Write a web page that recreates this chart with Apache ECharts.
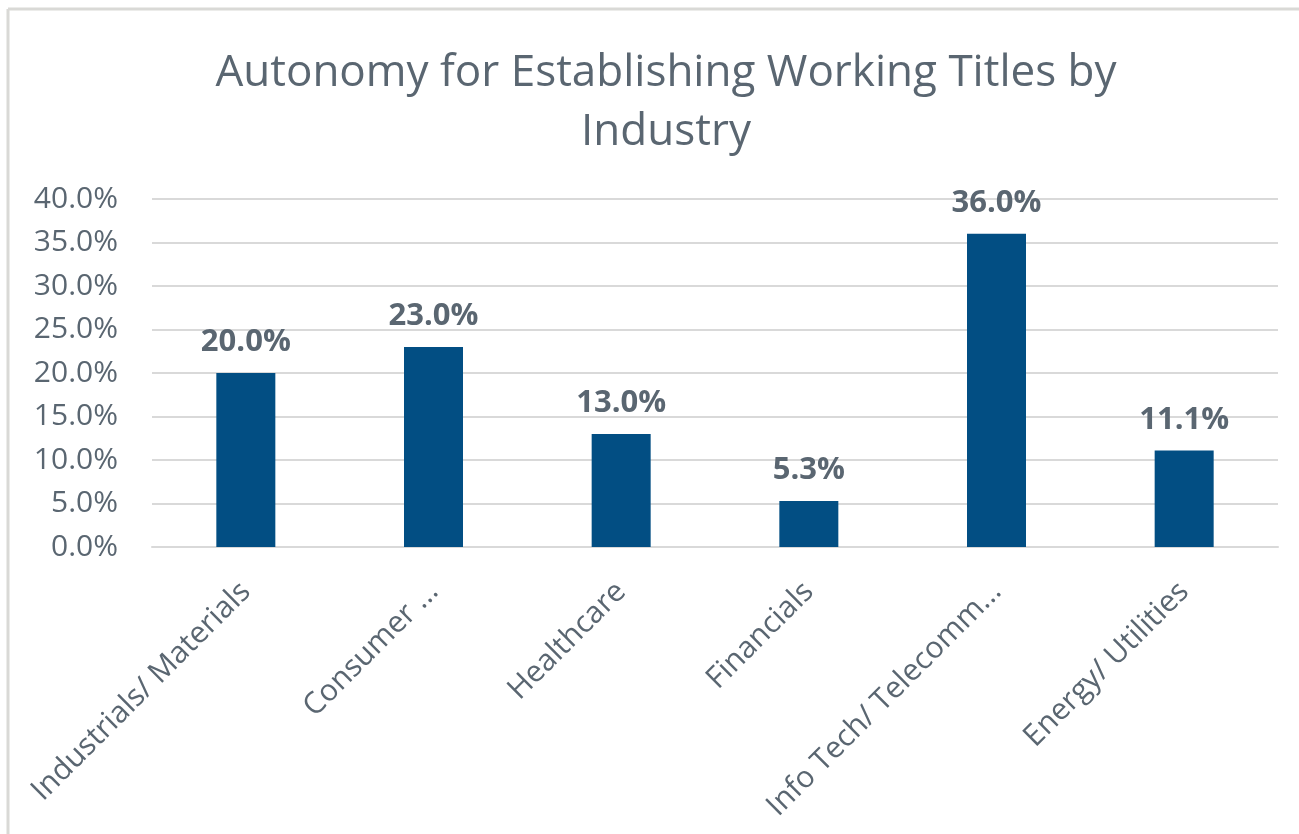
<!DOCTYPE html>
<html>
<head>
<meta charset="utf-8">
<title>Autonomy for Establishing Working Titles by Industry</title>
<script src="https://cdn.jsdelivr.net/npm/echarts@6/dist/echarts.min.js"></script>
<style>
  html, body { margin: 0; padding: 0; background: #ffffff; }
  #chart { width: 1299px; height: 834px; }
</style>
</head>
<body>
<div id="chart"></div>
<script>
// Industry categories as shown on the axis (long names are cut short)
const industries = [
  'Industrials/ Materials',
  'Consumer ...',
  'Healthcare',
  'Financials',
  'Info Tech/ Telecomm...',
  'Energy/ Utilities'
];

// Share with autonomy to set working titles, in percent
const autonomyPct = [20.0, 23.0, 13.0, 5.3, 36.0, 11.1];

// Value axis range and step, in percent
const axisMin = 0;
const axisMax = 40;
const axisStep = 5;

const textColor = '#5a6671';
const fontFamily = '"Open Sans", "Noto Sans", sans-serif';

const chart = echarts.init(document.getElementById('chart'), null, { renderer: 'canvas' });

chart.setOption({
  backgroundColor: '#ffffff',
  animation: false,
  title: {
    text: 'Autonomy for Establishing Working Titles by\nIndustry',
    left: 661,
    textAlign: 'center',
    top: 39,
    textStyle: {
      color: textColor,
      fontFamily: fontFamily,
      fontSize: 44,
      fontWeight: 'normal',
      lineHeight: 59
    }
  },
  graphic: [
    {
      type: 'line',
      shape: { x1: 8, y1: 9, x2: 1299, y2: 9 },
      style: { stroke: '#d9d9d6', lineWidth: 3 }
    },
    {
      type: 'line',
      shape: { x1: 8, y1: 9, x2: 8, y2: 834 },
      style: { stroke: '#d9d9d6', lineWidth: 3 }
    }
  ],
  grid: {
    left: 152,
    right: 21,
    top: 199,
    bottom: 287,
    containLabel: false
  },
  xAxis: {
    type: 'category',
    data: industries,
    axisLine: { show: true, lineStyle: { color: '#d9d9d9', width: 2 } },
    axisTick: { show: false },
    axisLabel: {
      rotate: 45,
      interval: 0,
      margin: 40,
      color: textColor,
      fontFamily: fontFamily,
      fontSize: 30
    }
  },
  yAxis: {
    type: 'value',
    min: axisMin,
    max: axisMax,
    interval: axisStep,
    axisLine: { show: false },
    axisTick: { show: false },
    splitLine: { lineStyle: { color: '#d9d9d9', width: 2 } },
    axisLabel: {
      margin: 34,
      color: textColor,
      fontFamily: fontFamily,
      fontSize: 30,
      formatter: v => v.toFixed(1) + '%'
    }
  },
  series: [
    {
      type: 'bar',
      data: autonomyPct,
      barWidth: 59,
      itemStyle: { color: '#024e83' },
      label: {
        show: true,
        position: 'top',
        distance: 15,
        color: textColor,
        fontFamily: fontFamily,
        fontSize: 31,
        fontWeight: 'bold',
        formatter: p => p.value.toFixed(1) + '%'
      }
    }
  ]
});
</script>
</body>
</html>
